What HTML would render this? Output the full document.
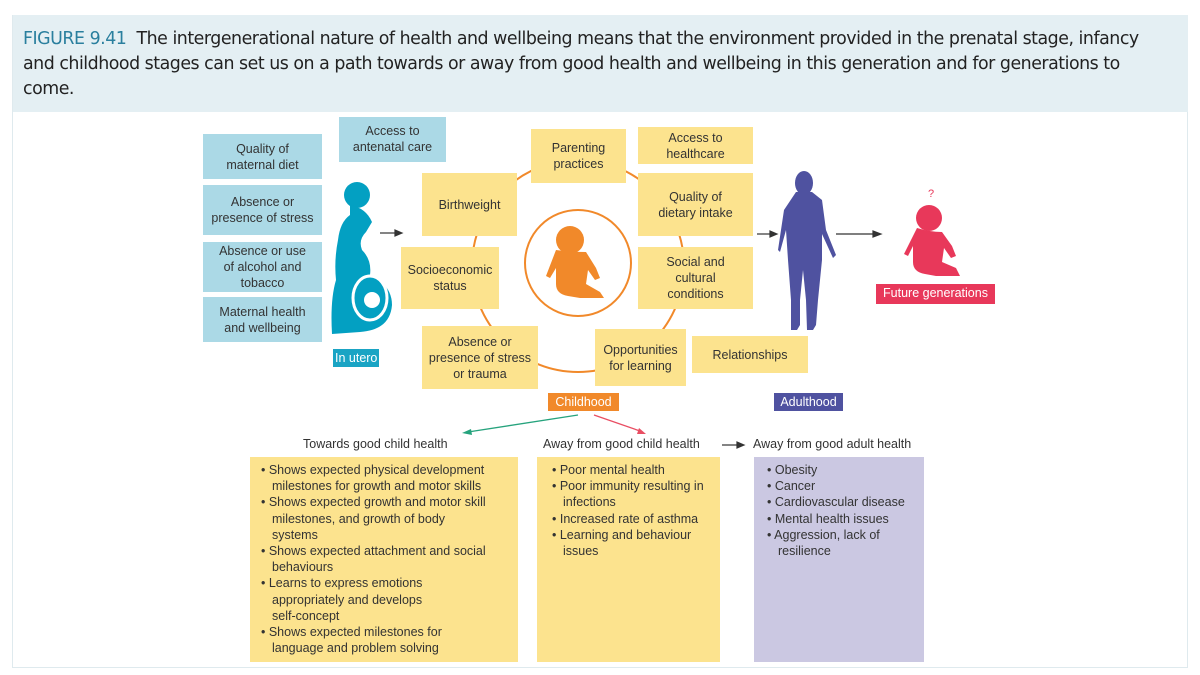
<!DOCTYPE html>
<html><head><meta charset="utf-8"><style>
*{margin:0;padding:0;box-sizing:border-box}
body{width:1200px;height:675px;background:#fff;position:relative;overflow:hidden;font-family:"Liberation Sans",sans-serif}
.frame{position:absolute;left:12px;top:15px;width:1176px;height:653px;border:1px solid #dfeaee}
.hdr{position:absolute;left:13px;top:15px;width:1175px;height:97px;background:#e4eff3}
.cap{position:absolute;left:23px;font-size:17.4px;color:#222;white-space:nowrap;font-family:"DejaVu Sans","Liberation Sans",sans-serif;letter-spacing:-0.48px}
.cap b{font-weight:normal;color:#2a7f9e}
.b{position:absolute;display:flex;align-items:center;justify-content:center;text-align:center;font-size:12.5px;color:#333;line-height:16px}
.bl{background:#abd9e6}
.y{background:#fce38e}
.lab{position:absolute;font-size:12.5px;color:#fff;padding:0 2px;line-height:18px}
.list{position:absolute;font-size:12.5px;color:#333;line-height:16.2px;padding-top:5px;padding-left:6px}
.list div{padding-left:16px;text-indent:-11px}
.h{position:absolute;font-size:12.5px;color:#333}
</style></head><body>
<div class="frame"></div>
<div class="hdr"></div>
<div class="cap" style="top:29px"><b>FIGURE 9.41</b>&nbsp; The intergenerational nature of health and wellbeing means that the environment provided in the prenatal stage, infancy</div>
<div class="cap" style="top:54px">and childhood stages can set us on a path towards or away from good health and wellbeing in this generation and for generations to</div>
<div class="cap" style="top:79px">come.</div>

<svg style="position:absolute;left:0;top:0" width="1200" height="675">
<circle cx="578" cy="266" r="106" fill="none" stroke="#f1892a" stroke-width="2"/>
<circle cx="578" cy="263" r="53" fill="none" stroke="#f1892a" stroke-width="2"/>
<g fill="#f1892a">
<circle cx="570" cy="240" r="14"/>
<path d="M556 250 Q570 252 586 252 L596 268 L600 278 L595 280 L588 270 L586 284 L600 292 L604 298 L580 298 L568 296 Q556 294 556 284 L556 268 L550 278 L546 276 Z"/>
</g>
<g fill="#e8385a">
<circle cx="929" cy="218" r="13"/>
<path d="M917 228 Q930 232 942 232 L952 246 L956 256 L951 258 L944 248 L942 262 L956 268 L960 276 L936 276 L925 274 Q913 272 913 262 L913 246 L908 256 L904 254 Z"/>
</g>
<text x="928" y="197" fill="#e8385a" font-size="11" font-family="Liberation Sans">?</text>
<g fill="#03a0c2">
<circle cx="357" cy="195" r="13"/>
<path d="M350 205 Q366 208 372 222 L366 232 Q358 240 362 250 Q372 260 370 275 Q392 285 392 305 Q390 330 360 332 L332 334 Q330 300 336 280 Q334 260 338 240 Q340 222 350 215 Z"/>
</g>
<ellipse cx="370" cy="298" rx="17" ry="22" fill="none" stroke="#fff" stroke-width="3"/>
<circle cx="372" cy="300" r="8" fill="#fff"/>
<g fill="#4f52a0">
<ellipse cx="804" cy="183" rx="9" ry="12"/>
<path d="M796 192 L812 192 L822 200 L826 230 L836 255 L833 258 L822 234 L822 260 L818 300 L816 325 L813 330 L807 330 L806 300 L803 270 L800 300 L800 325 L797 330 L791 330 L791 300 L788 260 L786 230 L780 252 L778 250 L784 210 Z"/>
</g>
<g stroke="#333" stroke-width="1.2" fill="#333">
<line x1="380" y1="233" x2="396" y2="233"/><path d="M402 233 l-7 -3 v6z"/>
<line x1="757" y1="234" x2="771" y2="234"/><path d="M777 234 l-7 -3 v6z"/>
<line x1="836" y1="234" x2="874" y2="234"/><path d="M881 234 l-8 -3 v6z"/>
<line x1="722" y1="445" x2="738" y2="445"/><path d="M744 445 l-7 -3 v6z"/>
</g>
<line x1="578" y1="415" x2="468" y2="432" stroke="#26a37d" stroke-width="1.3"/>
<path d="M462 433 l9 -4 l1 6z" fill="#26a37d"/>
<line x1="594" y1="415" x2="640" y2="431" stroke="#e94e63" stroke-width="1.3"/>
<path d="M646 434 l-9 -0 l2 -6z" fill="#e94e63"/>
</svg>

<div class="b bl" style="left:203px;top:134px;width:119px;height:45px">Quality of<br>maternal diet</div>
<div class="b bl" style="left:203px;top:185px;width:119px;height:50px">Absence or<br>presence of stress</div>
<div class="b bl" style="left:203px;top:242px;width:119px;height:50px">Absence or use<br>of alcohol and<br>tobacco</div>
<div class="b bl" style="left:203px;top:297px;width:119px;height:45px">Maternal health<br>and wellbeing</div>
<div class="b bl" style="left:339px;top:117px;width:107px;height:45px;align-items:flex-start;padding-top:6px">Access to<br>antenatal care</div>
<div class="lab" style="left:333px;top:349px;background:#1aa4c4">In utero</div>

<div class="b y" style="left:422px;top:173px;width:95px;height:63px">Birthweight</div>
<div class="b y" style="left:401px;top:247px;width:98px;height:62px">Socioeconomic<br>status</div>
<div class="b y" style="left:422px;top:326px;width:116px;height:63px">Absence or<br>presence of stress<br>or trauma</div>
<div class="b y" style="left:531px;top:129px;width:95px;height:54px">Parenting<br>practices</div>
<div class="b y" style="left:638px;top:127px;width:115px;height:37px">Access to<br>healthcare</div>
<div class="b y" style="left:638px;top:173px;width:115px;height:63px">Quality of<br>dietary intake</div>
<div class="b y" style="left:638px;top:247px;width:115px;height:62px">Social and<br>cultural<br>conditions</div>
<div class="b y" style="left:595px;top:329px;width:91px;height:57px">Opportunities<br>for learning</div>
<div class="b y" style="left:692px;top:336px;width:116px;height:37px">Relationships</div>
<div class="lab" style="left:548px;top:393px;width:71px;background:#f1892a;text-align:center">Childhood</div>
<div class="lab" style="left:774px;top:393px;width:69px;background:#4f52a0;text-align:center">Adulthood</div>
<div class="lab" style="left:876px;top:284px;width:119px;height:20px;background:#e8385a;text-align:center">Future generations</div>

<div class="h" style="left:303px;top:437px">Towards good child health</div>
<div class="h" style="left:543px;top:437px">Away from good child health</div>
<div class="h" style="left:753px;top:437px">Away from good adult health</div>

<div class="list y" style="left:250px;top:457px;width:268px;height:205px">
<div>• Shows expected physical development milestones for growth and motor skills</div>
<div>• Shows expected growth and motor skill milestones, and growth of body<br>systems</div>
<div>• Shows expected attachment and social behaviours</div>
<div>• Learns to express emotions<br>appropriately and develops<br>self-concept</div>
<div>• Shows expected milestones for<br>language and problem solving</div>
</div>
<div class="list y" style="left:537px;top:457px;width:183px;height:205px;padding-left:10px">
<div>• Poor mental health</div>
<div>• Poor immunity resulting in infections</div>
<div>• Increased rate of asthma</div>
<div>• Learning and behaviour issues</div>
</div>
<div class="list" style="left:754px;top:457px;width:170px;height:205px;background:#cbc8e2;padding-left:8px">
<div>• Obesity</div>
<div>• Cancer</div>
<div>• Cardiovascular disease</div>
<div>• Mental health issues</div>
<div>• Aggression, lack of resilience</div>
</div>
</body></html>
